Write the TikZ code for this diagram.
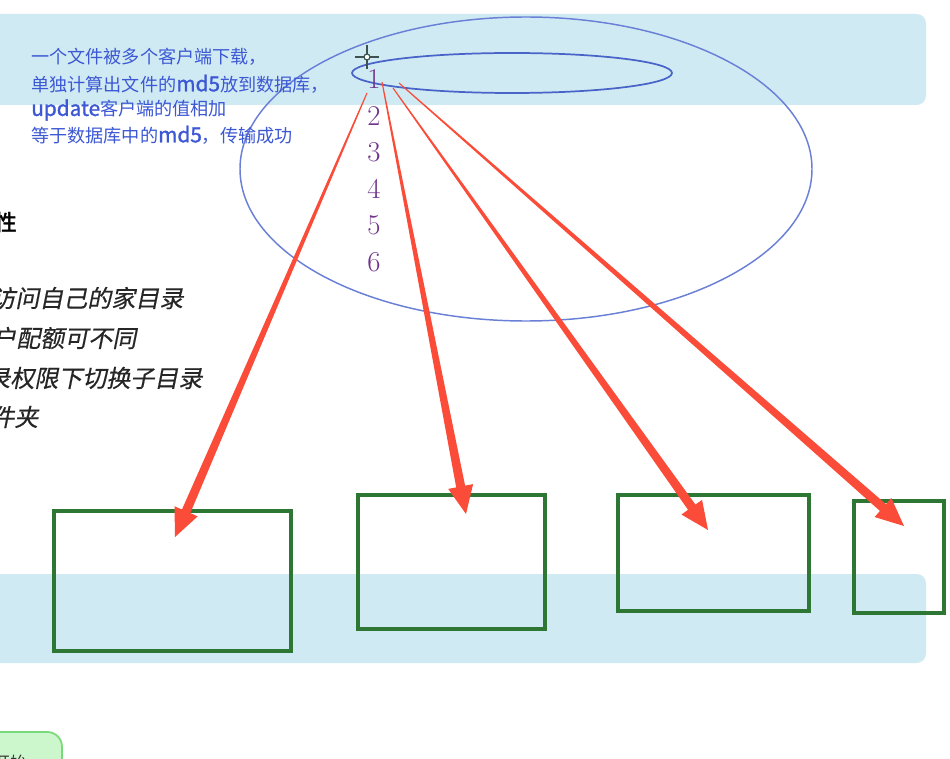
\documentclass[tikz,border=0pt]{standalone}
\usepackage{fontspec}
\usetikzlibrary{calc,shapes.geometric}
\newfontfamily\cjk{Noto Sans CJK SC}
\newfontfamily\cjkit{Noto Sans CJK SC}[FakeSlant=0.2,FakeBold=0.4]
\newfontfamily\cjkbold{Noto Sans CJK SC}[FakeBold=2]
\newfontfamily\latb{Noto Sans CJK SC}[FakeBold=1.4]
\newcommand{\lat}[1]{{\latb\fontsize{15.6}{16}\selectfont #1}}
\definecolor{band}{RGB}{208,234,243}
\definecolor{bluetext}{RGB}{60,88,212}
\definecolor{ellbig}{RGB}{105,128,214}
\definecolor{ellsmall}{RGB}{72,100,200}
\definecolor{numcol}{RGB}{112,52,140}
\definecolor{boxgreen}{RGB}{46,118,52}
\definecolor{arrred}{RGB}{250,76,56}
\definecolor{cross}{RGB}{60,82,80}
\definecolor{btnfill}{RGB}{204,246,204}
\definecolor{btnline}{RGB}{122,218,122}
\tikzset{
  bandbox/.style={fill=band, rounded corners=7pt},
  note/.style={inner sep=0pt, anchor=west, text=bluetext, font=\cjk\fontsize{13.6}{16}\selectfont},
  leftit/.style={inner sep=0pt, anchor=west, text=black!85, font=\cjkit\fontsize{18}{20}\selectfont},
  num/.style={inner sep=0pt, text=numcol, font=\fontsize{21.5}{24}\selectfont},
  gbox/.style={draw=boxgreen, line width=3pt, inner sep=0pt},
  arr/.style={fill=arrred},
}
\newcommand{\tapered}[2]{%
  \coordinate (hb) at ($(#2)!21pt!(#1)$);
  \fill[arr] ($(#1)!0.4pt!90:(#2)$) -- ($(hb)!3.4pt!90:(#2)$) -- ($(hb)!9.5pt!90:(#2)$) -- (#2)
    -- ($(hb)!9.5pt!-90:(#2)$) -- ($(hb)!3.4pt!-90:(#2)$) -- ($(#1)!0.4pt!-90:(#2)$) -- cycle;
}
\begin{document}
\begin{tikzpicture}[x=0.75pt,y=-0.75pt]
\useasboundingbox (0,0) rectangle (950,759);
\clip (0,0) rectangle (950,759);
\fill[white] (0,0) rectangle (950,759);
% bands
\fill[bandbox] (-20,14) rectangle (926,105);
\fill[bandbox] (-20,574) rectangle (926,663);
% green button at bottom left
\draw[fill=btnfill, draw=btnline, line width=1.3pt, rounded corners=11pt] (-30,732) rectangle (62,800);
\node[inner sep=0pt, anchor=west, font=\cjk\fontsize{12}{14}\selectfont, text=black!80] (btn) at (-6,762) {开始};
% ellipses
\node[ellipse, draw=ellbig, line width=1.1pt, minimum width=429pt, minimum height=228pt, inner sep=0pt] (big) at (526,169) {};
\node[ellipse, draw=ellsmall, line width=1.3pt, minimum width=240pt, minimum height=30pt, inner sep=0pt] (small) at (512,73) {};
% crosshair
\draw[cross, line width=0.9pt] (355,57) -- (379,57) (367,45) -- (367,69);
\draw[cross, line width=0.9pt, fill=white] (367,57) circle[radius=3];
% numbers
\foreach \i in {1,...,6} {
  \node[num] (n\i) at (374,{79+36.6*(\i-1)}) {\i};
}
% blue note
\node[note] (t1) at (31,57) {一个文件被多个客户端下载，};
\node[note] (t2) at (31,84) {单独计算出文件的\lat{md5}放到数据库，};
\node[note] (t3) at (31,110) {\lat{update}客户端的值相加};
\node[note] (t4) at (31,135) {等于数据库中的\lat{md5}，传输成功};
% left partial text
\node[inner sep=0pt, anchor=east, font=\cjkbold\fontsize{16.5}{18}\selectfont, text=black] (h) at (17,222) {性};
\node[leftit] (l1) at (-9,298) {访问自己的家目录};
\node[leftit] (l2) at (-8,338) {户配额可不同};
\node[leftit] (l3) at (-14,378) {录权限下切换子目录};
\node[leftit] (l4) at (-10,417) {件夹};
% boxes
\node[gbox, minimum width=177.75pt, minimum height=105pt] (b1) at (172.5,581) {};
\node[gbox, minimum width=140.25pt, minimum height=100.5pt] (b2) at (451.5,562) {};
\node[gbox, minimum width=143.25pt, minimum height=87pt] (b3) at (713.5,553) {};
\node[gbox, minimum width=67.5pt, minimum height=84pt] (b4) at (899,557) {};
% arrow ends
\coordinate (s1) at (367,93);
\coordinate (s2) at (382,82);
\coordinate (s3) at (393,88);
\coordinate (s4) at (399,83);
\coordinate (e1) at (175,537);
\coordinate (e2) at (466,514);
\coordinate (e3) at (708,530);
\coordinate (e4) at (904,526);
\tapered{s1}{e1}
\tapered{s2}{e2}
\tapered{s3}{e3}
\tapered{s4}{e4}
\end{tikzpicture}
\end{document}
